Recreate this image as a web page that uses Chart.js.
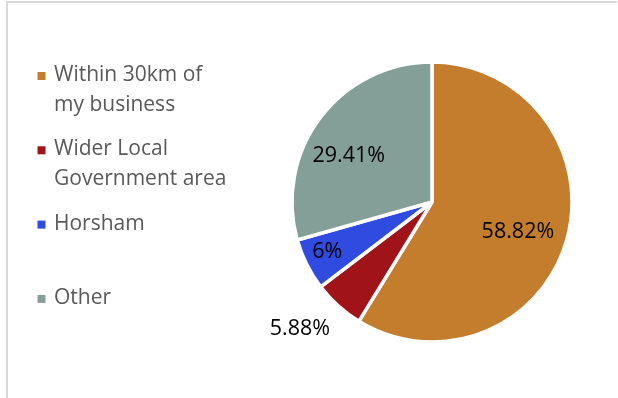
<!DOCTYPE html>
<html>
<head>
<meta charset="utf-8">
<script src="https://cdn.jsdelivr.net/npm/chart.js@4.4.1/dist/chart.umd.min.js"></script>
<style>
  html, body { margin: 0; padding: 0; background: #fff; }
  #wrap { position: relative; width: 618px; height: 398px; overflow: hidden; }
  #chart { position: absolute; left: 0; top: 0; }
  /* thin grey frame of the chart area (top + left edge) */
  #frame {
    position: absolute; left: 6px; top: 1px; right: 1px; bottom: -4px;
    border-top: 2px solid #d9d9d9; border-left: 2px solid #d9d9d9;
    pointer-events: none;
  }
</style>
</head>
<body>
<div id="wrap">
  <canvas id="chart" width="618" height="398"></canvas>
  <div id="frame"></div>
</div>
<script>
// categories (one array of lines per legend entry)
const categories = [
  ["Within 30km of", "my business"],
  ["Wider Local", "Government area"],
  ["Horsham"],
  ["Other"],
];
const shares = [58.82, 5.88, 6, 29.41];
const sliceColors = ["#c47d2c", "#a01419", "#2f4be0", "#849f97"];

// where each % label sits: fraction of the radius + small turn (degrees) off the slice middle
const labelPlacement = [
  { r: 0.65, turn: 3.5 },
  { r: 1.31, turn: 4 },
  { r: 0.83, turn: 1 },
  { r: 0.68, turn: -8 },
];

const FONT = "'Open Sans', 'Noto Sans', sans-serif";

function formatShare(v) {
  return v + "%";
}

/**
 * Draws the percentage of each slice on (or next to) the pie.
 */
const sliceLabels = {
  id: "sliceLabels",
  afterDatasetsDraw(chart) {
    const ctx = chart.ctx;
    const meta = chart.getDatasetMeta(0);
    ctx.save();
    ctx.font = "21.5px " + FONT;
    ctx.fillStyle = "#000";
    ctx.textAlign = "center";
    ctx.textBaseline = "middle";
    meta.data.forEach((arc, i) => {
      const p = arc.getProps(["x", "y", "startAngle", "endAngle", "outerRadius"], true);
      const mid = (p.startAngle + p.endAngle) / 2 + (labelPlacement[i].turn * Math.PI) / 180;
      const d = p.outerRadius * labelPlacement[i].r;
      ctx.fillText(formatShare(shares[i]), p.x + Math.cos(mid) * d, p.y + Math.sin(mid) * d);
    });
    ctx.restore();
  },
};

/**
 * Legend on the left: small colour square + wrapped category text.
 */
const sideLegend = {
  id: "sideLegend",
  afterDraw(chart) {
    const ctx = chart.ctx;
    ctx.save();
    ctx.font = "21px " + FONT;
    ctx.textAlign = "left";
    ctx.textBaseline = "alphabetic";
    categories.forEach((lines, i) => {
      const base = 81 + i * 74.3;
      ctx.fillStyle = sliceColors[i];
      ctx.fillRect(37.5, base - 9, 8, 8);
      ctx.fillStyle = "#595959";
      lines.forEach((line, j) => ctx.fillText(line, 54, base + j * 29.5));
    });
    ctx.restore();
  },
};

new Chart(document.getElementById("chart"), {
  type: "pie",
  data: {
    labels: categories,
    datasets: [
      {
        data: shares,
        backgroundColor: sliceColors,
        borderColor: "#ffffff",
        borderWidth: 3.5,
      },
    ],
  },
  options: {
    responsive: false,
    animation: false,
    radius: 140,
    layout: { padding: { left: 292, right: 46, top: 62, bottom: 56 } },
    plugins: {
      legend: { display: false },
      tooltip: { enabled: false },
    },
  },
  plugins: [sliceLabels, sideLegend],
});
</script>
</body>
</html>
